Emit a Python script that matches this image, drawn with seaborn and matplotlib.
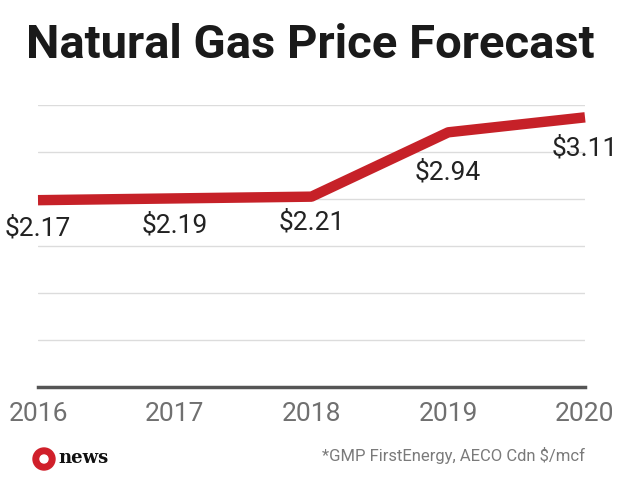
import matplotlib
matplotlib.use("Agg")
import matplotlib.pyplot as plt
from matplotlib.patches import Ellipse
import numpy as np
import pandas as pd
import seaborn as sns

# datos del grafico
years = [2016, 2017, 2018, 2019, 2020]
prices = [2.17, 2.19, 2.21, 2.94, 3.11]
price_labels = ["$2.17", "$2.19", "$2.21", "$2.94", "$3.11"]
label_offsets = [-28, -27, -26, -40, -31]

sns.set_theme(style="white")
plt.rcParams["font.family"] = ["Roboto", "DejaVu Sans"]

df = pd.DataFrame({"year": years, "price": prices})

fig = plt.figure(figsize=(6.2, 4.84), dpi=100)
ax = fig.add_axes([38 / 620, 1 - 387 / 484, (585 - 38) / 620, (387 - 105) / 484])

sns.lineplot(data=df, x="year", y="price", ax=ax, color="#c62128",
             linewidth=7.5, clip_on=False, solid_capstyle="butt")

lo, hi = 0.05, 3.25
ax.set_ylim(lo, hi)
ax.set_xlim(2016, 2020)
ax.set_yticks(np.linspace(lo, hi, 7))
ax.set_xticks(years)
ax.yaxis.grid(True, color="#dcdcdc", linewidth=1)
ax.tick_params(axis="y", left=False, labelleft=False)
ax.tick_params(axis="x", bottom=False, labelsize=19, labelcolor="#707070", pad=5)
for s in ["top", "right", "left"]:
    ax.spines[s].set_visible(False)
ax.spines["bottom"].set_color("#555555")
ax.spines["bottom"].set_linewidth(2.5)
ax.set_xlabel("")
ax.set_ylabel("")

for x, y, t, off in zip(years, prices, price_labels, label_offsets):
    ax.annotate(t, (x, y), xytext=(0, off), textcoords="offset pixels",
                ha="center", va="center", fontsize=19, color="#222222")

fig.text(0.5, 1 - 45 / 484, "Natural Gas Price Forecast", ha="center", va="center",
         fontsize=34, fontweight="bold", color="#1a1a1a")

fig.text(585 / 620, 1 - 455 / 484, "*GMP FirstEnergy, AECO Cdn $/mcf", ha="right",
         va="center", fontsize=12, color="#7a7a7a")

# logo CBC aproximado
cx, cy = 44 / 620, 1 - 459 / 484
fig.patches.append(Ellipse((cx, cy), 22 / 620, 22 / 484, transform=fig.transFigure,
                           color="#d01f2a", zorder=5))
fig.patches.append(Ellipse((cx, cy), 8 / 620, 8 / 484, transform=fig.transFigure,
                           color="white", zorder=6))
fig.text(58 / 620, 1 - 458 / 484, "news", ha="left", va="center", fontsize=13,
         fontweight="bold", color="#111111", family=["DejaVu Serif"])

fig.savefig("out.png", dpi=100, facecolor="white")
